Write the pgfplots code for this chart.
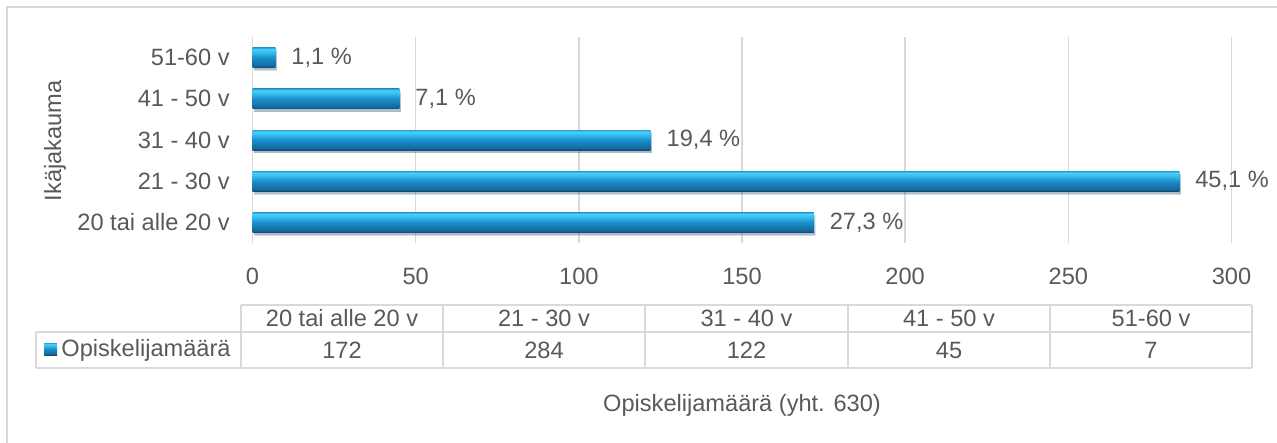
\documentclass[border=0pt]{standalone}
\usepackage{fontspec}
\setmainfont{Liberation Sans}
\usepackage{pgfplots}
\pgfplotsset{compat=1.18}
\definecolor{txtgray}{HTML}{595959}
\definecolor{gridgray}{HTML}{D9D9D9}
\definecolor{bdark}{HTML}{0E4A72}
\definecolor{bmid3}{HTML}{1569A0}
\definecolor{bmid}{HTML}{1A8ECC}
\definecolor{blight}{HTML}{36BFF0}
\definecolor{blight2}{HTML}{4CCFFA}
\definecolor{bedge}{HTML}{2A9ED8}
\pgfdeclareverticalshading{barshade}{100bp}{color(0bp)=(bdark); color(25bp)=(bdark); color(30bp)=(bmid3); color(50bp)=(bmid); color(64bp)=(blight); color(71bp)=(blight2); color(75bp)=(bedge); color(100bp)=(bedge)}
\pgfplotsset{mybar/.style={xbar, bar width=10pt, bar shift=0pt, draw=none, shading=barshade, forget plot,
  preaction={fill=black, fill opacity=0.18, transform canvas={shift={(0.8pt,-1.4pt)}}}}}
\begin{document}
\begin{tikzpicture}[font=\fontsize{11.8pt}{14pt}\selectfont]
\useasboundingbox (0,0) rectangle (638.5pt,-221.5pt);
\begin{scope}[x=0.5pt,y=-0.5pt]
\draw[gridgray, line width=0.75pt] (7,470) -- (7,7) -- (1300,7);
\end{scope}
\begin{axis}[
  at={(126.25pt,-121.5pt)}, anchor=south west,
  scale only axis, width=489.5pt, height=103pt,
  xmin=0, xmax=300, ymin=-0.5, ymax=4.5,
  axis line style={draw=none},
  major tick length=0pt,
  xmajorgrids, grid style={gridgray, line width=0.75pt},
  xtick={0,50,...,300},
  ytick={0,1,2,3,4},
  yticklabels={20 tai alle 20 v, 21 - 30 v, 31 - 40 v, 41 - 50 v, 51-60 v},
  /pgf/number format/assume math mode=true,
  xticklabel style={anchor=north, inner sep=0pt, yshift=-12.5pt, text=txtgray},
  yticklabel style={anchor=east, inner sep=0pt, xshift=-11.25pt, text=txtgray},
]
\addplot[mybar] coordinates {(172,0)};
\addplot[mybar] coordinates {(284,1)};
\addplot[mybar] coordinates {(122,2)};
\addplot[mybar] coordinates {(45,3)};
\addplot[mybar] coordinates {(7,4)};
\addplot[xbar, bar width=10pt, bar shift=0pt, draw=none, fill=none, forget plot,
  point meta=explicit symbolic, nodes near coords,
  every node near coord/.append style={anchor=west, xshift=4.5pt, text=txtgray}]
  coordinates {(172,0)[27,3 \%] (284,1)[45,1 \%] (122,2)[19,4 \%] (45,3)[7,1 \%] (7,4)[1,1 \%]};
\end{axis}
\begin{scope}[x=0.5pt,y=-0.5pt]
\draw[gridgray, line width=0.75pt] (241,305) -- (1252,305);
\draw[gridgray, line width=0.75pt] (36,332) -- (1252,332);
\draw[gridgray, line width=0.75pt] (36,368) -- (1252,368);
\draw[gridgray, line width=0.75pt] (36,332) -- (36,368);
\foreach \xx in {241,443,645,848,1050,1252} {\draw[gridgray, line width=0.75pt] (\xx,305) -- (\xx,368);}
\foreach \xx/\tt in {342/20 tai alle 20 v, 544/21 - 30 v, 746.5/31 - 40 v, 949/41 - 50 v, 1151/51-60 v} {\node[text=txtgray, inner sep=0pt] at (\xx,318.5) {\tt};}
\foreach \xx/\tt in {342/172, 544/284, 746.5/122, 949/45, 1151/7} {\node[text=txtgray, inner sep=0pt] at (\xx,350) {\tt};}
\shade[shading=barshade] (44,343) rectangle (57,355);
\node[text=txtgray, inner sep=0pt, anchor=west] at (61,350) {Opiskelijamäärä};
\node[text=txtgray, inner sep=0pt] at (742,405) {Opiskelijamäärä (yht. 630)};
\node[text=txtgray, inner sep=0pt, rotate=90] at (55,141) {Ikäjakauma};
\end{scope}
\end{tikzpicture}
\end{document}
